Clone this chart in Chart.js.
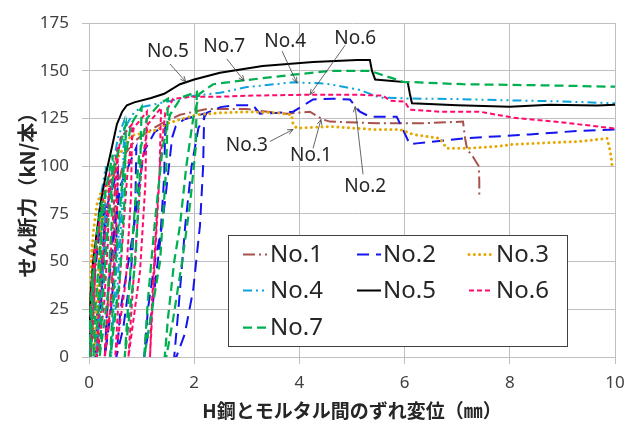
<!DOCTYPE html>
<html>
<head>
<meta charset="utf-8">
<script src="https://cdn.jsdelivr.net/npm/chart.js@4/dist/chart.umd.min.js"></script>
<style>
  html, body { margin: 0; padding: 0; background: #ffffff; }
  #wrap { width: 625px; height: 421px; }
</style>
</head>
<body>
<div id="wrap"><canvas id="c" width="625" height="421"></canvas></div>
<script>
// Shear force per stud vs. slip between H-steel and mortar (cyclic push-out tests)
const seriesNames = ['No.1', 'No.2', 'No.3', 'No.4', 'No.5', 'No.6', 'No.7'];
const xTicks = [0, 2, 4, 6, 8, 10];
const yTicks = [0, 25, 50, 75, 100, 125, 150, 175];
const xTitle = 'H鋼とモルタル間のずれ変位（㎜）';
const yTitle = 'せん断力（kN/本）';

// [slip (mm), shear force (kN)] — loading, unloading and reloading paths
const no1 = [
  [0,0],[0.03,25],[0.08,45],[0.12,55],[0.1,30],[0.06,10],[0.03,0],
  [0.06,20],[0.12,45],[0.2,68],[0.3,82],[0.28,50],[0.22,20],[0.15,0],
  [0.2,25],[0.28,55],[0.38,85],[0.5,98],[0.48,60],[0.4,25],[0.3,0],
  [0.36,30],[0.45,65],[0.55,90],[0.7,107],[0.86,113],[1.0,116],[1.35,122],
  [1.73,127],[2.24,130],[3.0,130],[3.25,129],[3.76,127.5],[4.2,128.6],
  [4.45,124.5],[4.58,123.4],[5.5,122.5],[6.3,122.5],[7.11,123.4],
  [7.15,114.6],[7.19,108.8],[7.3,105],[7.41,100],[7.42,92],[7.42,84]
];
const no2 = [
  [0,0],[0.05,25],[0.15,55],[0.3,80],[0.28,50],[0.2,20],[0.12,0],
  [0.16,25],[0.25,55],[0.35,80],[0.55,98],[0.52,60],[0.42,25],[0.3,0],
  [0.35,30],[0.45,60],[0.6,90],[0.9,110],[0.88,80],[0.8,45],[0.65,15],[0.52,0],
  [0.6,25],[0.75,50],[0.86,69],[0.95,90],[1.05,108],[1.25,118],[1.45,121.5],
  [1.43,95],[1.35,60],[1.2,25],[1.05,0],
  [1.12,25],[1.25,50],[1.39,69],[1.5,95],[1.58,115],[1.65,121],[1.8,124.5],[2.19,127.6],
  [2.17,100],[2.11,69],[1.98,35],[1.82,12],[1.66,0],
  [1.62,0],[1.7,25],[1.83,69],[1.95,100],[2.08,120],[2.24,128],[2.5,131],[2.81,132],
  [3.12,132],[3.25,127.6],[3.6,128],[3.88,128.6],[4.26,135],[4.64,135.4],[4.96,135],
  [5.15,128.6],[5.34,126],[5.85,126],[6.1,111.5],[6.23,112],[7.11,114.6],
  [8.38,116.7],[9.33,118.6],[10,119.3]
];
const no3 = [
  [0,0],[0.02,25],[0.04,48],[0.06,60],[0.05,35],[0.03,12],[0.02,0],
  [0.03,20],[0.05,45],[0.08,65],[0.15,80],[0.25,88],[0.22,55],[0.16,20],[0.1,0],
  [0.14,25],[0.2,55],[0.28,80],[0.38,93],[0.5,102],[0.6,107],[0.7,112],[0.8,116],
  [1.05,117.5],[1.29,119],[1.5,122.5],[1.73,124.5],[2.05,127],[2.5,128],[3.0,128.5],
  [3.6,128],[3.85,127],[3.88,122],[3.95,120],[4.58,120.8],[5.4,119.3],[5.91,119.3],
  [6.16,116.7],[6.67,114.6],[6.8,109.4],[7.2,109.4],[7.76,110.4],[8.06,111.5],
  [9.33,113],[9.85,114.6],[9.9,109],[9.93,104],[9.95,99]
];
const no4 = [
  [0,0],[0.04,30],[0.1,55],[0.08,30],[0.05,10],[0.03,0],
  [0.06,25],[0.12,55],[0.2,80],[0.32,100],[0.3,60],[0.22,25],[0.14,0],
  [0.2,30],[0.3,65],[0.42,95],[0.55,115],[0.67,124],[0.64,85],[0.55,40],[0.42,0],
  [0.48,30],[0.58,70],[0.66,100],[0.72,122],[0.85,128],[1.0,131],[1.5,134],
  [2.0,137],[2.49,138.5],[3.0,141.5],[3.88,144],[4.39,143.5],[4.58,143],
  [5.15,140],[5.53,136],[6.14,135.5],[7.0,135.2],[8.08,134.5],[9.0,134],[10,133]
];
const no5 = [
  [0,0],[0.03,33],[0.08,50],[0.15,66],[0.23,82],[0.33,97],[0.42,108],[0.53,122],
  [0.63,128.6],[0.72,132],[0.86,133.5],[1.18,135.8],[1.43,138],[1.73,143],[2.0,145.5],
  [2.49,149],[3.3,152.5],[4.26,154.7],[5.1,155.7],[5.34,155.7],[5.38,150],[5.44,145.5],
  [6.06,144],[6.1,138],[6.14,133],[7.0,132],[8.0,131.2],[8.76,132.3],[9.66,131.8],[10,132.3]
];
const no6 = [
  [0,0],[0.03,25],[0.07,45],[0.12,60],[0.1,30],[0.06,10],[0.03,0],
  [0.06,22],[0.12,50],[0.2,72],[0.3,88],[0.38,95],[0.36,60],[0.28,25],[0.15,0],
  [0.2,30],[0.3,65],[0.42,92],[0.55,110],[0.53,75],[0.45,35],[0.3,0],
  [0.36,30],[0.45,70],[0.52,100],[0.6,115],[0.82,122],[0.8,85],[0.7,40],[0.5,0],
  [0.56,30],[0.66,70],[0.74,100],[0.85,120],[1.1,128.6],[1.07,90],[0.97,45],[0.75,0],
  [0.82,30],[0.92,70],[1.0,100],[1.12,122],[1.37,130.7],[1.34,95],[1.25,50],[1.16,0],
  [1.2,30],[1.28,70],[1.36,105],[1.45,128],[1.6,135.4],[1.98,136.5],[2.55,136.5],
  [3.0,137],[4.2,137.5],[5.1,137.5],[5.59,137],[5.72,134.4],[6.0,133.9],[6.1,129.7],
  [6.67,128.6],[7.43,128.6],[8.06,125.5],[9.0,123],[10,119.8]
];
const no7 = [
  [0,0],[0.03,25],[0.07,45],[0.06,25],[0.04,8],[0.02,0],
  [0.04,20],[0.09,45],[0.15,65],[0.25,82],[0.23,50],[0.17,20],[0.08,0],
  [0.12,25],[0.2,55],[0.3,85],[0.45,106],[0.43,70],[0.35,30],[0.2,0],
  [0.26,30],[0.36,70],[0.48,100],[0.7,122],[0.68,85],[0.58,40],[0.4,0],
  [0.46,30],[0.56,70],[0.66,100],[0.8,122],[1.0,131],[0.97,95],[0.88,50],[0.68,0],
  [0.75,30],[0.85,70],[0.95,105],[1.1,125],[1.35,133],[1.5,135.4],[1.47,100],[1.35,50],[1.05,0],
  [1.12,30],[1.25,70],[1.4,110],[1.54,127],[1.75,136],[2.05,139],
  [2.03,110],[1.92,80],[1.77,50],[1.6,20],[1.47,0],
  [1.44,0],[1.5,20],[1.62,50],[1.73,69],[1.85,100],[1.98,125],[2.1,138],[2.36,143],
  [2.93,145],[3.88,148],[4.58,150],[5.34,150],[5.97,144.3],[7.11,143],[8.5,142.5],[10,141.7]
];
const seriesData = [no1, no2, no3, no4, no5, no6, no7];

// line styles per specimen
const styles = [
  { color: '#A8524B', dash: [12, 4, 2, 4], width: 2, cap: 'butt' },
  { color: '#1414F0', dash: [12, 7], width: 2, cap: 'butt' },
  { color: '#E6A700', dash: [0.01, 5.3], width: 3, cap: 'round' },
  { color: '#0CA4DC', dash: [9, 4, 2, 4, 2, 4], width: 2, cap: 'butt' },
  { color: '#000000', dash: [], width: 2, cap: 'butt' },
  { color: '#FF0A6C', dash: [5, 3], width: 2, cap: 'butt' },
  { color: '#00B050', dash: [9, 5], width: 2.25, cap: 'butt' }
];

// callout labels with leader arrows, anchored in data units
const callouts = [
  { text: 'No.5', at: [1.50, 159.9], from: [1.54, 153.6], to: [1.84, 144.3] },
  { text: 'No.7', at: [2.57, 162.5], from: [2.62, 156.3], to: [2.95, 144.8] },
  { text: 'No.4', at: [3.73, 165.1], from: [3.67, 160.4], to: [3.95, 143.8] },
  { text: 'No.6', at: [5.06, 166.7], from: [4.87, 163.5], to: [4.20, 137.5] },
  { text: 'No.3', at: [3.00, 110.9], from: [3.44, 113.0], to: [3.88, 119.3] },
  { text: 'No.1', at: [4.22, 105.7], from: [4.26, 109.4], to: [4.41, 124.5] },
  { text: 'No.2', at: [5.25, 89.6],  from: [5.21, 95.8],  to: [5.06, 131.3] }
];

const legendBox = { left: 228, top: 235, right: 567, bottom: 346 };
const legendCols = [{ line: 243, text: 270 }, { line: 357, text: 383 }, { line: 469, text: 496 }];
const legendRows = [254, 290, 327];

const datasets = seriesNames.map((name, i) => ({
  label: name,
  data: seriesData[i].map(p => ({ x: p[0], y: p[1] })),
  showLine: true,
  borderColor: styles[i].color,
  backgroundColor: styles[i].color,
  borderWidth: styles[i].width,
  borderDash: styles[i].dash,
  borderCapStyle: styles[i].cap,
  pointRadius: 0,
  pointHoverRadius: 0,
  tension: 0,
  fill: false,
  order: seriesNames.length - i
}));

function drawArrow(ctx, x1, y1, x2, y2) {
  const ang = Math.atan2(y2 - y1, x2 - x1);
  const head = 6, spread = 0.42;
  ctx.beginPath();
  ctx.moveTo(x1, y1);
  ctx.lineTo(x2, y2);
  ctx.moveTo(x2 - head * Math.cos(ang - spread), y2 - head * Math.sin(ang - spread));
  ctx.lineTo(x2, y2);
  ctx.lineTo(x2 - head * Math.cos(ang + spread), y2 - head * Math.sin(ang + spread));
  ctx.stroke();
}

const overlay = {
  id: 'overlay',
  afterDatasetsDraw(chart) {
    const ctx = chart.ctx;
    const xs = chart.scales.x, ys = chart.scales.y;
    ctx.save();
    // callouts
    ctx.strokeStyle = '#404040';
    ctx.lineWidth = 0.8;
    ctx.setLineDash([]);
    callouts.forEach(c => {
      drawArrow(ctx, xs.getPixelForValue(c.from[0]), ys.getPixelForValue(c.from[1]),
                     xs.getPixelForValue(c.to[0]), ys.getPixelForValue(c.to[1]));
    });
    ctx.fillStyle = '#262626';
    ctx.font = '19px "Noto Sans", sans-serif';
    ctx.textAlign = 'center';
    ctx.textBaseline = 'middle';
    callouts.forEach(c => {
      ctx.fillText(c.text, xs.getPixelForValue(c.at[0]), ys.getPixelForValue(c.at[1]));
    });

    // legend box
    ctx.fillStyle = '#ffffff';
    ctx.fillRect(legendBox.left, legendBox.top, legendBox.right - legendBox.left, legendBox.bottom - legendBox.top);
    ctx.strokeStyle = '#404040';
    ctx.lineWidth = 1;
    ctx.strokeRect(legendBox.left + 0.5, legendBox.top + 0.5, legendBox.right - legendBox.left, legendBox.bottom - legendBox.top);
    ctx.font = '24px "Noto Sans", sans-serif';
    ctx.textAlign = 'left';
    ctx.textBaseline = 'middle';
    seriesNames.forEach((name, i) => {
      const col = legendCols[i % 3], y = legendRows[Math.floor(i / 3)];
      const st = styles[i];
      ctx.strokeStyle = st.color;
      ctx.lineWidth = st.width;
      ctx.lineCap = st.cap;
      ctx.setLineDash(st.dash);
      ctx.beginPath();
      ctx.moveTo(col.line, y + 0.5);
      ctx.lineTo(col.line + 24, y + 0.5);
      ctx.stroke();
      ctx.setLineDash([]);
      ctx.lineCap = 'butt';
      ctx.fillStyle = '#262626';
      ctx.fillText(name, col.text, y + 1);
    });
    ctx.restore();
  }
};

const gridColor = '#BFBFBF';
new Chart(document.getElementById('c'), {
  type: 'scatter',
  data: { datasets },
  plugins: [overlay],
  options: {
    responsive: false,
    devicePixelRatio: 1,
    animation: false,
    events: [],
    layout: { padding: { top: 21, right: 10, left: 0, bottom: 0 } },
    plugins: { legend: { display: false }, tooltip: { enabled: false }, title: { display: false } },
    scales: {
      x: {
        type: 'linear',
        min: xTicks[0], max: xTicks[xTicks.length - 1],
        afterBuildTicks: s => { s.ticks = xTicks.map(v => ({ value: v })); },
        afterFit: s => { s.height = 64; s.paddingRight = 0; s.paddingLeft = 0; },
        grid: { color: gridColor, lineWidth: 1, tickLength: 7, drawTicks: true },
        border: { color: gridColor, width: 1 },
        ticks: { color: '#404040', font: { family: '"Noto Sans", sans-serif', size: 17 }, padding: 9, maxRotation: 0 },
        title: {
          display: true, text: xTitle, color: '#262626',
          font: { family: '"Noto Sans CJK JP", sans-serif', size: 19, weight: 'bold', lineHeight: 1 },
          padding: { top: 0, bottom: 1 }
        }
      },
      y: {
        type: 'linear',
        min: yTicks[0], max: yTicks[yTicks.length - 1],
        afterBuildTicks: s => { s.ticks = yTicks.map(v => ({ value: v })); },
        afterFit: s => { s.width = 89; },
        grid: { color: gridColor, lineWidth: 1, tickLength: 7, drawTicks: true },
        border: { color: gridColor, width: 1 },
        ticks: { color: '#404040', font: { family: '"Noto Sans", sans-serif', size: 17 }, padding: 13 },
        title: {
          display: true, text: yTitle, color: '#262626',
          font: { family: '"Noto Sans CJK JP", sans-serif', size: 20, weight: 'bold', lineHeight: 1 },
          padding: { top: 17, bottom: 0 }
        }
      }
    }
  }
});
</script>
</body>
</html>
